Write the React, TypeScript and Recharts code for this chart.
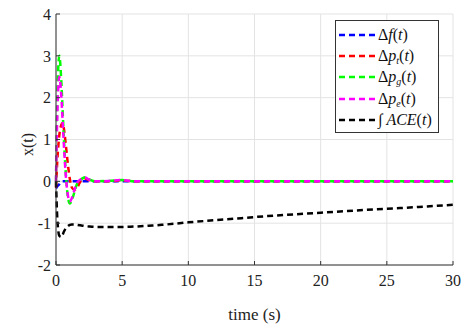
import React from 'react';
import { LineChart, Line, XAxis, YAxis, CartesianGrid } from 'recharts';

const time = [0, 0.1, 0.25, 0.4, 0.5, 0.6, 0.75, 0.9, 1.05, 1.2, 1.4, 1.6, 1.8, 2.0, 2.2, 2.5, 3, 4, 5, 6, 7, 8, 10, 12, 14, 16, 18, 20, 22, 24, 26, 28, 30];
const deltaF = [-0.17, -0.12, -0.07, -0.01, 0, 0, 0, 0, 0, 0, 0, 0, 0, 0, 0, 0, 0, 0, 0, 0, 0, 0, 0, 0, 0, 0, 0, 0, 0, 0, 0, 0, 0];
const deltaPt = [-0.15, 0.5, 1.1, 1.35, 1.4, 1.25, 0.85, 0.4, 0.05, -0.15, -0.2, -0.15, -0.03, 0.05, 0.07, 0.03, 0, 0, 0.02, 0, 0, 0, 0, 0, 0, 0, 0, 0, 0, 0, 0, 0, 0];
const deltaPg = [0, 2.0, 3.0, 2.4, 1.7, 1.0, 0.15, -0.38, -0.53, -0.45, -0.25, -0.05, 0.02, 0.07, 0.1, 0.05, 0, 0.01, 0.03, 0, 0, 0, 0, 0, 0, 0, 0, 0, 0, 0, 0, 0, 0];
const deltaPe = [0, 1.6, 2.5, 2.05, 1.45, 0.85, 0.1, -0.33, -0.48, -0.4, -0.2, -0.03, 0.03, 0.07, 0.09, 0.04, 0, 0.01, 0.03, 0, 0, 0, 0, 0, 0, 0, 0, 0, 0, 0, 0, 0, 0];
const intACE = [0, -0.9, -1.3, -1.33, -1.28, -1.2, -1.12, -1.07, -1.04, -1.03, -1.03, -1.04, -1.05, -1.06, -1.07, -1.08, -1.09, -1.09, -1.09, -1.08, -1.06, -1.04, -0.98, -0.93, -0.88, -0.83, -0.79, -0.75, -0.71, -0.67, -0.64, -0.6, -0.56];

const xTicks = [0, 5, 10, 15, 20, 25, 30];
const yTicks = [-2, -1, 0, 1, 2, 3, 4];

const data = time.map((t, i) => ({
  t,
  df: deltaF[i],
  pt: deltaPt[i],
  pg: deltaPg[i],
  pe: deltaPe[i],
  ace: intACE[i],
}));

const FONT = "'Liberation Serif', 'Times New Roman', serif";

const subStyle: React.CSSProperties = { fontSize: 10, verticalAlign: -3, lineHeight: 0 };

const legendItems = [
  { color: '#0000ff', label: <span>Δ<i>f</i>(<i>t</i>)</span> },
  { color: '#ff0000', label: <span>Δ<i>p</i><i style={subStyle}>t</i>(<i>t</i>)</span> },
  { color: '#00ff00', label: <span>Δ<i>p</i><i style={subStyle}>g</i>(<i>t</i>)</span> },
  { color: '#ff00ff', label: <span>Δ<i>p</i><i style={subStyle}>e</i>(<i>t</i>)</span> },
  { color: '#000000', label: <span>∫&nbsp;<i>ACE</i>(<i>t</i>)</span> },
];

const LegendBox = () => (
  <div
    style={{
      position: 'absolute',
      left: 335,
      top: 20,
      border: '1px solid #333',
      background: '#fff',
      width: 104,
      height: 113,
      boxSizing: 'border-box',
      padding: '3px 0 0 3px',
      fontFamily: FONT,
      fontSize: 16,
      color: '#111',
    }}
  >
    {legendItems.map((it, i) => (
      <div key={i} style={{ display: 'flex', alignItems: 'center', height: 21.3 }}>
        <svg width={37} height={6} style={{ flex: 'none' }}>
          <line x1={0} y1={3} x2={37} y2={3} stroke={it.color} strokeWidth={2.5} strokeDasharray="6 4" />
        </svg>
        <span style={{ marginLeft: 2, lineHeight: '20px', whiteSpace: 'nowrap' }}>{it.label}</span>
      </div>
    ))}
  </div>
);

const YLabel = (props: any) => {
  const vb = props.viewBox || {};
  const cx = 27;
  const cy = vb.y + vb.height / 2 + 5;
  return (
    <text x={cx} y={cy} transform={`rotate(-90 ${cx} ${cy})`} textAnchor="middle" dominantBaseline="central" fontFamily={FONT} fontSize={16} fill="#222" style={{ fontFamily: FONT }}>
      x(t)
    </text>
  );
};

export default function App() {
  const tickStyle = { fontFamily: FONT, fontSize: 16, fill: '#222', style: { fontFamily: FONT } };
  return (
    <div style={{ position: 'absolute', left: 0, top: 0, background: '#fff', width: 473, height: 326, fontFamily: FONT }}>
      <LineChart width={473} height={326} data={data} margin={{ top: 14, right: 20, bottom: 0, left: 0 }} style={{ fontFamily: FONT }}>
        <CartesianGrid stroke="#e3e3e3" strokeWidth={1} />
        <XAxis
          dataKey="t"
          type="number"
          domain={[0, 30]}
          ticks={xTicks}
          height={61}
          stroke="#333"
          tickSize={-4}
          tickMargin={14}
          tick={tickStyle}
          interval={0}
          label={{ value: 'time (s)', position: 'insideBottom', offset: 6, style: { fontFamily: FONT, fontSize: 17, fill: '#222' } }}
        />
        <YAxis
          type="number"
          domain={[-2, 4]}
          ticks={yTicks}
          width={56}
          stroke="#333"
          tickSize={-4}
          tickMargin={9}
          tick={tickStyle}
          interval={0}
          label={<YLabel />}
        />
        <Line type="monotone" dataKey="df" stroke="#0000ff" strokeWidth={2.5} strokeDasharray="6 4" dot={false} isAnimationActive={false} />
        <Line type="monotone" dataKey="pt" stroke="#ff0000" strokeWidth={2.5} strokeDasharray="6 4" dot={false} isAnimationActive={false} />
        <Line type="monotone" dataKey="pg" stroke="#00ff00" strokeWidth={2.5} strokeDasharray="6 4" dot={false} isAnimationActive={false} />
        <Line type="monotone" dataKey="pe" stroke="#ff00ff" strokeWidth={2.5} strokeDasharray="6 4" dot={false} isAnimationActive={false} />
        <Line type="monotone" dataKey="ace" stroke="#000000" strokeWidth={2.5} strokeDasharray="6 4" dot={false} isAnimationActive={false} />
      </LineChart>
      <LegendBox />
    </div>
  );
}
